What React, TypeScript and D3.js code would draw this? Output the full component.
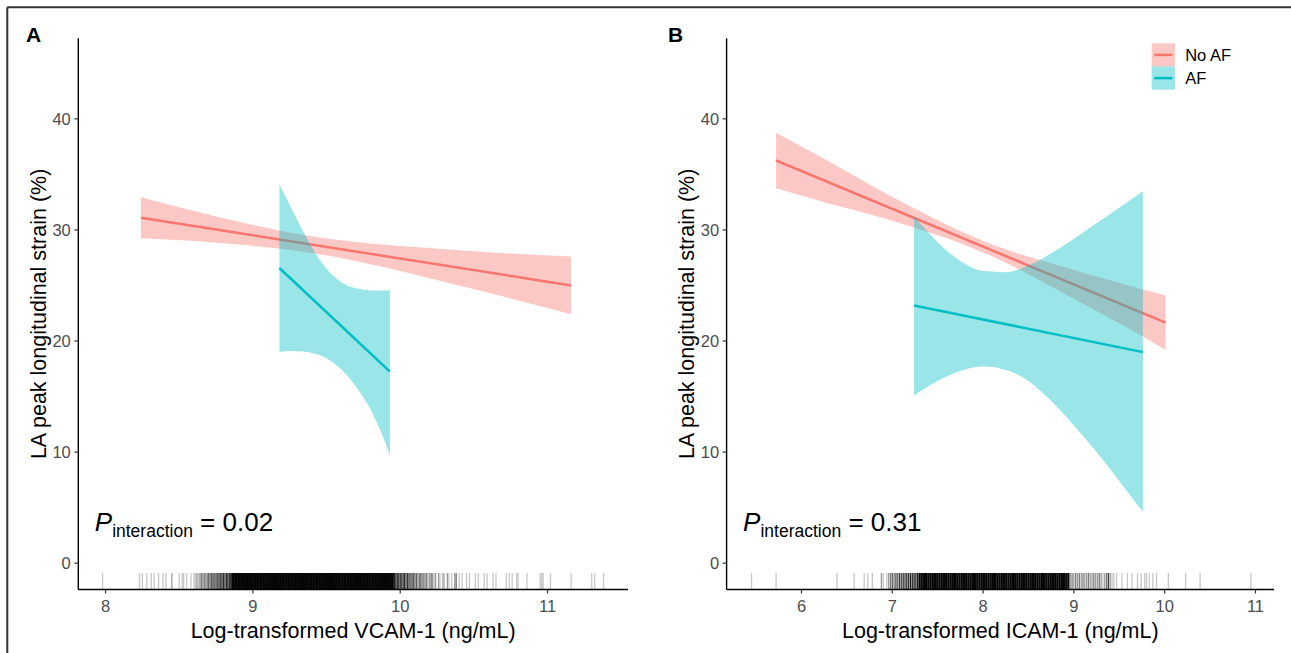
import React from 'react';
import * as d3 from 'd3';

const W = 1291;
const H = 653;
const FONT = '"Liberation Sans", Arial, Helvetica, sans-serif';
const RED = '#F8766D';
const CYAN = '#00BFC4';

// axis ticks
const yTicks = [0, 10, 20, 30, 40];
const xTicksA = [8, 9, 10, 11];
const xTicksB = [6, 7, 8, 9, 10, 11];

// panel A, No AF fit and 95% band
const noAfA_x = [8.24, 8.6, 9.0, 9.4, 9.8, 10.2, 10.6, 11.16];
const noAfA_hi = [32.95, 31.7, 30.45, 29.43, 28.78, 28.37, 28.0, 27.6];
const noAfA_lo = [29.25, 29.0, 28.57, 27.93, 26.9, 25.65, 24.35, 22.4];
const noAfA_lineX = [8.24, 11.16];
const noAfA_lineY = [31.1, 25.0];

// panel A, AF fit and band
const afA_x = [9.18, 9.26, 9.34, 9.42, 9.5, 9.57, 9.64, 9.72, 9.8, 9.87, 9.93];
const afA_hi = [34.1, 32.0, 29.9, 28.0, 26.5, 25.6, 25.0, 24.7, 24.55, 24.55, 24.6];
const afA_lo = [19.0, 19.1, 19.05, 18.85, 18.45, 17.8, 16.9, 15.5, 13.8, 11.8, 9.7];
const afA_lineX = [9.18, 9.93];
const afA_lineY = [26.57, 17.24];

// panel B, No AF
const noAfB_x = [5.72, 6.25, 6.75, 7.25, 7.75, 8.25, 8.75, 9.25, 9.75, 10.01];
const noAfB_hi = [38.75, 36.4, 34.1, 31.9, 29.9, 28.25, 27.0, 25.8, 24.65, 24.1];
const noAfB_lo = [33.75, 32.5, 31.4, 30.2, 28.8, 27.05, 24.9, 22.7, 20.45, 19.2];
const noAfB_lineX = [5.72, 10.01];
const noAfB_lineY = [36.25, 21.66];

// panel B, AF
const afB_x = [7.24, 7.5, 7.75, 8.0, 8.25, 8.5, 8.75, 9.0, 9.25, 9.5, 9.76];
const afB_hi = [31.2, 28.9, 27.2, 26.3, 26.2, 26.8, 27.9, 29.2, 30.6, 32.0, 33.5];
const afB_lo = [15.1, 16.4, 17.3, 17.7, 17.4, 16.4, 14.6, 12.4, 10.0, 7.4, 4.6];
const afB_lineX = [7.24, 9.76];
const afB_lineY = [23.2, 19.0];

// rug, [value, count]
const rugA: [number, number][] = [
  [7.98, 1], [8.23, 1], [8.25, 1], [8.28, 1], [8.31, 1], [8.33, 1], [8.36, 1], [8.39, 1],
  [8.41, 1], [8.45, 2], [8.5, 1], [8.52, 1], [8.53, 1], [8.55, 1], [8.58, 1],
  [8.6, 1], [8.61, 1], [8.62, 2], [8.63, 1], [8.64, 2], [8.65, 3], [8.66, 2], [8.67, 3],
  [8.68, 2], [8.69, 3], [8.7, 4], [8.71, 3], [8.72, 4], [8.73, 5], [8.74, 3], [8.75, 5],
  [8.76, 4], [8.77, 6], [8.78, 5], [8.79, 6], [8.8, 7], [8.81, 5], [8.82, 7], [8.83, 8],
  [8.84, 7], [8.85, 9],
  [9.96, 9], [9.97, 7], [9.98, 8], [9.99, 6], [10.0, 7], [10.01, 5], [10.02, 6], [10.03, 7],
  [10.04, 4], [10.05, 6], [10.06, 5], [10.07, 3], [10.08, 5], [10.09, 4], [10.1, 3],
  [10.11, 4], [10.12, 2], [10.13, 3], [10.14, 4], [10.15, 2], [10.16, 3], [10.17, 2],
  [10.18, 3], [10.19, 1], [10.2, 2], [10.21, 3], [10.22, 2], [10.23, 1], [10.24, 2],
  [10.26, 2], [10.27, 1], [10.29, 2], [10.3, 1], [10.32, 2], [10.33, 1], [10.35, 1],
  [10.37, 2], [10.38, 3], [10.4, 1], [10.42, 1], [10.45, 1], [10.47, 1],
  [10.51, 1], [10.53, 1], [10.57, 1], [10.59, 1], [10.63, 1], [10.65, 1], [10.72, 1],
  [10.74, 1], [10.76, 1], [10.79, 1], [10.8, 1], [10.86, 1], [10.95, 1], [10.96, 1],
  [10.97, 1], [11.02, 1], [11.16, 1], [11.3, 1], [11.32, 1], [11.38, 1],
];
const rugACore = [
  8.86, 8.87, 8.88, 8.89, 8.9, 8.91, 8.92, 8.93, 8.94, 8.95,
  8.96, 8.97, 8.98, 8.99, 9.0, 9.01, 9.02, 9.03, 9.04, 9.05,
  9.06, 9.07, 9.08, 9.09, 9.1, 9.11, 9.12, 9.13, 9.14, 9.15,
  9.16, 9.17, 9.18, 9.19, 9.2, 9.21, 9.22, 9.23, 9.24, 9.25,
  9.26, 9.27, 9.28, 9.29, 9.3, 9.31, 9.32, 9.33, 9.34, 9.35,
  9.36, 9.37, 9.38, 9.39, 9.4, 9.41, 9.42, 9.43, 9.44, 9.45,
  9.46, 9.47, 9.48, 9.49, 9.5, 9.51, 9.52, 9.53, 9.54, 9.55,
  9.56, 9.57, 9.58, 9.59, 9.6, 9.61, 9.62, 9.63, 9.64, 9.65,
  9.66, 9.67, 9.68, 9.69, 9.7, 9.71, 9.72, 9.73, 9.74, 9.75,
  9.76, 9.77, 9.78, 9.79, 9.8, 9.81, 9.82, 9.83, 9.84, 9.85,
  9.86, 9.87, 9.88, 9.89, 9.9, 9.91, 9.92, 9.93, 9.94, 9.95,
];

const rugB: [number, number][] = [
  [5.45, 1], [5.72, 1], [6.39, 1], [6.58, 1], [6.69, 1], [6.73, 1], [6.78, 1], [6.88, 2],
  [6.9, 1], [6.94, 1],
  [6.96, 2], [6.98, 3], [7.0, 4], [7.02, 3], [7.04, 5], [7.06, 4], [7.08, 6], [7.1, 5],
  [7.12, 7], [7.14, 6], [7.16, 8], [7.18, 7], [7.2, 9], [7.22, 8], [7.24, 10], [7.26, 9],
  [7.28, 11],
  [8.96, 2], [8.98, 3], [9.0, 2], [9.02, 3], [9.04, 2], [9.06, 3], [9.08, 2], [9.1, 3],
  [9.12, 2], [9.14, 2], [9.16, 3], [9.18, 2], [9.2, 2], [9.22, 3], [9.24, 2], [9.26, 2],
  [9.28, 3], [9.3, 2], [9.32, 1], [9.34, 2], [9.36, 3], [9.38, 6], [9.4, 2], [9.42, 1],
  [9.44, 1],
  [9.47, 1], [9.53, 1], [9.59, 1], [9.64, 1], [9.7, 1], [9.74, 1], [9.78, 1], [9.8, 1],
  [9.83, 1], [9.87, 1], [9.91, 1], [10.04, 1], [10.23, 1], [10.39, 1], [10.95, 1],
];
const rugBCore = [
  7.3, 7.32, 7.34, 7.36, 7.38, 7.4, 7.42, 7.44, 7.46, 7.48,
  7.5, 7.52, 7.54, 7.56, 7.58, 7.6, 7.62, 7.64, 7.66, 7.68,
  7.7, 7.72, 7.74, 7.76, 7.78, 7.8, 7.82, 7.84, 7.86, 7.88,
  7.9, 7.92, 7.94, 7.96, 7.98, 8.0, 8.02, 8.04, 8.06, 8.08,
  8.1, 8.12, 8.14, 8.16, 8.18, 8.2, 8.22, 8.24, 8.26, 8.28,
  8.3, 8.32, 8.34, 8.36, 8.38, 8.4, 8.42, 8.44, 8.46, 8.48,
  8.5, 8.52, 8.54, 8.56, 8.58, 8.6, 8.62, 8.64, 8.66, 8.68,
  8.7, 8.72, 8.74, 8.76, 8.78, 8.8, 8.82, 8.84, 8.86, 8.88,
  8.9, 8.92, 8.94,
];

const groups = ['No AF', 'AF'];
const groupColors = [RED, CYAN];

const TOP = 38.3;
const BOTTOM = 589.5;

type Band = { x: number[]; hi: number[]; lo: number[]; lx: number[]; ly: number[]; color: string };

function Panel(props: {
  left: number;
  right: number;
  domain: [number, number];
  ticks: number[];
  xLabel: string;
  tag: string;
  tagX: number;
  pval: string;
  bands: Band[];
  rug: [number, number][];
  core: number[];
  legend?: boolean;
}) {
  const { left, right, domain, ticks, xLabel, tag, tagX, pval, bands, rug, core, legend } = props;
  const x = d3.scaleLinear().domain(domain).range([left, right]);
  const y = d3.scaleLinear().domain([-2.37, 47.25]).range([BOTTOM, TOP]);

  const rugTop = BOTTOM - 16.5;
  const op = (n: number) => 1 - Math.pow(0.78, n);

  return (
    <g>
      {/* rug */}
      <g stroke="#000">
        {rug.map(([v, n], i) => (
          <line key={'r' + i} x1={x(v)} x2={x(v)} y1={rugTop} y2={BOTTOM} strokeWidth={1.3} strokeOpacity={op(n)} />
        ))}
        {core.map((v, i) => (
          <line key={'c' + i} x1={x(v)} x2={x(v)} y1={rugTop} y2={BOTTOM} strokeWidth={2} strokeOpacity={0.97} />
        ))}
      </g>

      {/* ribbons and fitted lines */}
      {bands.map((b, i) => {
        const area = d3
          .area<number>()
          .x((_, j) => x(b.x[j]))
          .y0((_, j) => y(b.lo[j]))
          .y1((_, j) => y(b.hi[j]))
          .curve(d3.curveMonotoneX);
        const line = d3
          .line<number>()
          .x((_, j) => x(b.lx[j]))
          .y((_, j) => y(b.ly[j]));
        return (
          <g key={i}>
            <path d={area(b.x) || ''} fill={b.color} fillOpacity={0.4} />
            <path d={line(b.lx) || ''} fill="none" stroke={b.color} strokeWidth={2.5} />
          </g>
        );
      })}

      {/* axes */}
      <line x1={left} x2={left} y1={TOP} y2={BOTTOM} stroke="#000" strokeWidth={1.4} />
      <line x1={left} x2={right} y1={BOTTOM} y2={BOTTOM} stroke="#000" strokeWidth={1.4} />
      {yTicks.map((t) => (
        <g key={'y' + t}>
          <line x1={left - 4} x2={left} y1={y(t)} y2={y(t)} stroke="#333" strokeWidth={1.2} />
          <text x={left - 7.5} y={y(t)} dy="0.35em" textAnchor="end" fontSize={16.5} fill="#4D4D4D">
            {t}
          </text>
        </g>
      ))}
      {ticks.map((t) => (
        <g key={'x' + t}>
          <line x1={x(t)} x2={x(t)} y1={BOTTOM} y2={BOTTOM + 4} stroke="#333" strokeWidth={1.2} />
          <text x={x(t)} y={612} textAnchor="middle" fontSize={16.5} fill="#4D4D4D">
            {t}
          </text>
        </g>
      ))}
      <text x={(left + right) / 2} y={638} textAnchor="middle" fontSize={21.5} fill="#000">
        {xLabel}
      </text>
      <text
        transform={`translate(${left - 32.3},${(TOP + BOTTOM) / 2}) rotate(-90)`}
        textAnchor="middle"
        fontSize={21.5}
        fill="#000"
      >
        LA peak longitudinal strain (%)
      </text>

      {/* tag */}
      <text x={tagX} y={42} fontSize={21} fontWeight="bold" fill="#000">
        {tag}
      </text>

      {/* P interaction */}
      <text x={left + 16.5} y={531} fontSize={26} fill="#000">
        <tspan fontStyle="italic">P</tspan>
        <tspan fontSize={17.5} dy={6}>interaction</tspan>
        <tspan dy={-6}>{' = ' + pval}</tspan>
      </text>

      {legend && (
        <g>
          {groups.map((g, i) => (
            <g key={g} transform={`translate(1151.7,${43.3 + i * 23.2})`}>
              <rect width={23.3} height={23.2} fill={groupColors[i]} fillOpacity={0.4} />
              <line x1={2.5} x2={20.8} y1={11.6} y2={11.6} stroke={groupColors[i]} strokeWidth={2.5} />
              <text x={33.5} y={11.6} dy="0.35em" fontSize={16.5} fill="#000">
                {g}
              </text>
            </g>
          ))}
        </g>
      )}
    </g>
  );
}

export default function App() {
  const bandsA: Band[] = [
    { x: noAfA_x, hi: noAfA_hi, lo: noAfA_lo, lx: noAfA_lineX, ly: noAfA_lineY, color: RED },
    { x: afA_x, hi: afA_hi, lo: afA_lo, lx: afA_lineX, ly: afA_lineY, color: CYAN },
  ];
  const bandsB: Band[] = [
    { x: noAfB_x, hi: noAfB_hi, lo: noAfB_lo, lx: noAfB_lineX, ly: noAfB_lineY, color: RED },
    { x: afB_x, hi: afB_hi, lo: afB_lo, lx: afB_lineX, ly: afB_lineY, color: CYAN },
  ];
  return (
    <svg
      width={W}
      height={H}
      style={{ position: 'absolute', left: 0, top: 0, display: 'block', background: '#fff' }}
      fontFamily={FONT}
    >
      <rect width={W} height={H} fill="#fff" />
      <line x1={7.3} x2={W} y1={7.3} y2={7.3} stroke="#333" strokeWidth={2} />
      <line x1={7.3} x2={7.3} y1={7.3} y2={H} stroke="#333" strokeWidth={2} />
      <Panel
        left={78.3}
        right={628}
        domain={[7.815, 11.546]}
        ticks={xTicksA}
        xLabel="Log-transformed VCAM-1 (ng/mL)"
        tag="A"
        tagX={26}
        pval="0.02"
        bands={bandsA}
        rug={rugA}
        core={rugACore}
      />
      <Panel
        left={726.6}
        right={1274}
        domain={[5.175, 11.204]}
        ticks={xTicksB}
        xLabel="Log-transformed ICAM-1 (ng/mL)"
        tag="B"
        tagX={668}
        pval="0.31"
        bands={bandsB}
        rug={rugB}
        core={rugBCore}
        legend
      />
    </svg>
  );
}
